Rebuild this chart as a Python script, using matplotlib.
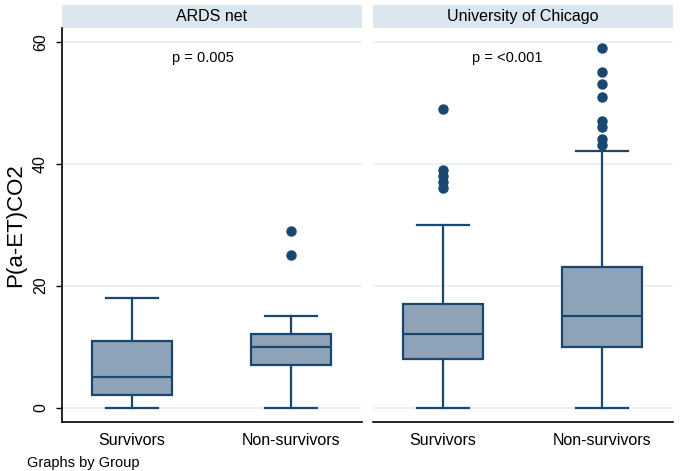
import matplotlib.pyplot as plt
from matplotlib.patches import Rectangle

plt.rcParams['font.family'] = ['Liberation Sans', 'DejaVu Sans']

# --- data ---
panels = ['ARDS net', 'University of Chicago']
groups = ['Survivors', 'Non-survivors']
p_values = ['p = 0.005', 'p = <0.001']

# [survivors, non-survivors] per panel
whis_lo = [[0, 0], [0, 0]]
q1 = [[2, 7], [8, 10]]
median = [[5, 10], [12, 15]]
q3 = [[11, 12], [17, 23]]
whis_hi = [[18, 15], [30, 42]]
outliers = [
    [[], [25, 29]],
    [[36, 37, 38, 39, 49], [43, 44, 46, 47, 51, 53, 55, 59]],
]

line_col = '#1a476f'
fill_col = '#8fa3b8'
strip_col = '#dce6ee'
grid_col = '#e8eff2'

fig = plt.figure(figsize=(6.85, 4.71), dpi=100)
lefts = [62 / 685, 373 / 685]
w = 300 / 685
bottom = 1 - 422 / 471
h = (422 - 28) / 471

for i, name in enumerate(panels):
    ax = fig.add_axes([lefts[i], bottom, w, h])
    stats = []
    for j, g in enumerate(groups):
        stats.append(dict(label=g, med=median[i][j], q1=q1[i][j], q3=q3[i][j],
                          whislo=whis_lo[i][j], whishi=whis_hi[i][j],
                          fliers=outliers[i][j]))
    ax.bxp(stats, positions=[1, 2], widths=0.5, capwidths=0.33, patch_artist=True,
           boxprops=dict(facecolor=fill_col, edgecolor=line_col, linewidth=1.6),
           medianprops=dict(color=line_col, linewidth=1.6),
           whiskerprops=dict(color=line_col, linewidth=1.6),
           capprops=dict(color=line_col, linewidth=1.6),
           flierprops=dict(marker='o', markerfacecolor=line_col, markeredgecolor=line_col,
                           markersize=6.5))
    ax.set_xlim(0.56, 2.447)
    ax.set_ylim(-2.36, 62.25)
    ax.set_yticks([0, 20, 40, 60])
    ax.grid(axis='y', color=grid_col, linewidth=1.2)
    ax.set_axisbelow(True)
    ax.tick_params(axis='x', length=0, labelsize=11.5, pad=8)
    for s in ['top', 'right']:
        ax.spines[s].set_visible(False)
    ax.spines['bottom'].set_linewidth(1.2)
    if i == 0:
        ax.spines['left'].set_linewidth(1.2)
        ax.tick_params(axis='y', labelsize=11.5, length=4, width=1.0, pad=6)
        for lab in ax.get_yticklabels():
            lab.set_rotation(90)
            lab.set_va('center')
        ax.set_ylabel('P(a-ET)CO2', fontsize=16, labelpad=5)
    else:
        ax.spines['left'].set_visible(False)
        ax.tick_params(axis='y', left=False, labelleft=False)

    # strip header
    ax.add_patch(Rectangle((0, 1.0), 1, 23 / 394, transform=ax.transAxes,
                           facecolor=strip_col, edgecolor='none', clip_on=False))
    ax.text(0.5, 1 + 11.5 / 394, name, transform=ax.transAxes, ha='center', va='center',
            fontsize=11.5)

    px = [1.447, 1.403][i]
    ax.text(px, 57.4, p_values[i], ha='center', va='center', fontsize=10.5)

fig.text(27 / 685, 1 - 463 / 471, 'Graphs by Group', ha='left', va='center', fontsize=10.5)

fig.savefig('out.png', dpi=100)
